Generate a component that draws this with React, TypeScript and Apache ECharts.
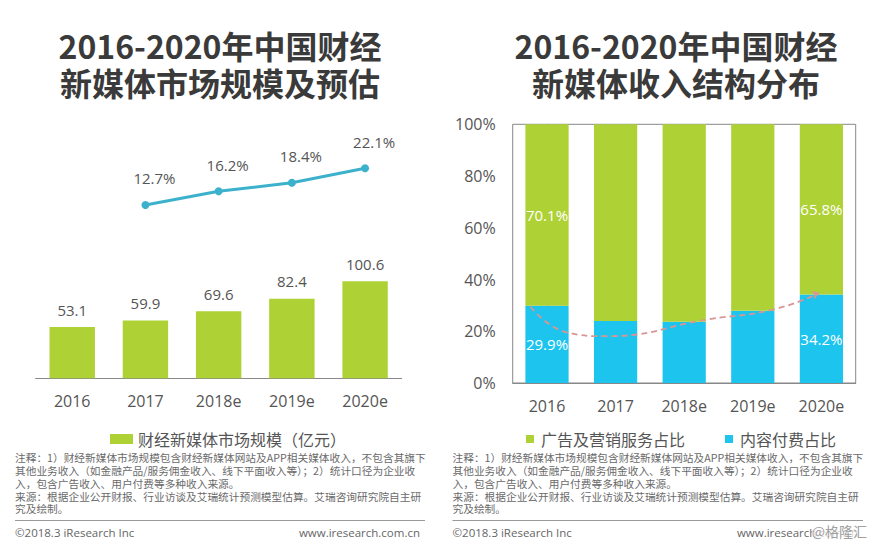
import React, { useEffect, useRef } from "react";
import * as echarts from "echarts";

const years = ["2016", "2017", "2018e", "2019e", "2020e"];
const marketSize = [53.1, 59.9, 69.6, 82.4, 100.6];
const growthRate: (number | null)[] = [null, 12.7, 16.2, 18.4, 22.1];
const adShare = [70.1, 76.0, 76.3, 72.1, 65.8];
const contentShare = [29.9, 24.0, 23.7, 27.9, 34.2];
const labeledIdx = [0, 4];
const trendCurve = [
  [-0.24, 29.5],
  [0.3, 19.5],
  [0.85, 18.1],
  [2.35, 24.6],
  [3.3, 28.4],
  [3.97, 34.8],
];
const yTicks = [0, 20, 40, 60, 80, 100];

const leftTitle = ["2016-2020年中国财经", "新媒体市场规模及预估"];
const rightTitle = ["2016-2020年中国财经", "新媒体收入结构分布"];
const notes = [
  "注释：1）财经新媒体市场规模包含财经新媒体网站及APP相关媒体收入，不包含其旗下",
  "其他业务收入（如金融产品/服务佣金收入、线下平面收入等）；2）统计口径为企业收",
  "入，包含广告收入、用户付费等多种收入来源。",
  "来源：根据企业公开财报、行业访谈及艾瑞统计预测模型估算。艾瑞咨询研究院自主研",
  "究及绘制。",
];
const footerLeft = "©2018.3 iResearch Inc";
const footerRight = "www.iresearch.com.cn";
const watermark = "@格隆汇";
const legendLeft = "财经新媒体市场规模（亿元）";
const legendAd = "广告及营销服务占比";
const legendContent = "内容付费占比";

const GREEN = "#aed136";
const BLUE = "#1dc4ee";
const LINE = "#3cb1cc";
const DASH = "#d99595";
const TXT = "#555";
const FONT = "'Open Sans', 'Noto Sans CJK SC', sans-serif";
const CJK = "'Noto Sans CJK SC', sans-serif";

function txt(x: number, y: number, text: string, o: any = {}) {
  const va = o.va ?? "middle";
  return {
    type: "text",
    x,
    y,
    z: o.z ?? 10,
    style: {
      text,
      fill: o.fill ?? "#666",
      fontSize: o.fontSize ?? 11,
      fontFamily: o.fontFamily ?? CJK,
      fontWeight: o.fontWeight ?? "normal",
      lineHeight: o.lineHeight,
      textAlign: o.align ?? "left",
      align: o.align ?? "left",
      textVerticalAlign: va,
      verticalAlign: va,
      backgroundColor: o.bg,
    },
  };
}

export default function App() {
  const ref = useRef<HTMLDivElement>(null);
  useEffect(() => {
    if (!ref.current) return;
    const chart = echarts.init(ref.current, undefined, { renderer: "svg" });
    const graphics: any[] = [];
    [
      [220, leftTitle],
      [676, rightTitle],
    ].forEach(([cx, lines]: any) => {
      graphics.push(
        txt(cx, 26.5, lines.join("\n"), {
          fontSize: 32,
          lineHeight: 37,
          fontWeight: "bold",
          fill: "#3a3a3a",
          align: "center",
          va: "top",
        })
      );
    });
    [
      [15, 425, 420],
      [452.5, 863, 858],
    ].forEach(([x0, x1, xr]) => {
      graphics.push(
        txt(x0, 451.6, notes.join("\n"), { fontSize: 10.7, lineHeight: 12.75, fill: "#6a6a6a", va: "top" })
      );
      graphics.push({
        type: "line",
        shape: { x1: x0, y1: 520.5, x2: x1, y2: 520.5 },
        style: { stroke: "#999", lineWidth: 1 },
      });
      graphics.push(txt(x0, 532, footerLeft, { fontSize: 11.5, fill: "#666", fontFamily: FONT }));
      graphics.push(txt(xr, 532, footerRight, { fontSize: 11.5, fill: "#666", fontFamily: FONT, align: "right" }));
    });
    graphics.push(
      txt(867, 531, watermark, { fontSize: 14, fill: "#a0a0a0", align: "right", bg: "rgba(255,255,255,0.75)", z: 20 })
    );

    const option: any = {
      animation: false,
      backgroundColor: "#fff",
      textStyle: { fontFamily: FONT },
      graphic: graphics,
      legend: [
        {
          left: 105,
          top: 426,
          data: [legendLeft],
          icon: "rect",
          itemWidth: 23,
          itemHeight: 10,
          itemGap: 5,
          selectedMode: false,
          textStyle: { fontSize: 16, color: TXT, fontFamily: CJK },
        },
        {
          left: 521,
          top: 426,
          data: [legendAd, legendContent],
          icon: "rect",
          itemWidth: 8,
          itemHeight: 8,
          itemGap: 40,
          selectedMode: false,
          textStyle: { fontSize: 16, color: TXT, fontFamily: CJK, padding: [0, 0, 0, 2] },
        },
      ],
      grid: [
        { left: 35.6, right: 471.3, top: 137.5, bottom: 289.5 },
        { left: 35.6, right: 471.3, top: 262.5, bottom: 165.7 },
        {
          left: 512.7,
          right: 17.3,
          top: 124.3,
          bottom: 161,
          show: true,
          borderColor: "#888",
          borderWidth: 1,
        },
      ],
      xAxis: [
        { type: "category", gridIndex: 0, data: years, show: false },
        {
          type: "category",
          gridIndex: 1,
          data: years,
          axisLine: { lineStyle: { color: "#888" } },
          axisTick: { show: false },
          axisLabel: { fontSize: 16, color: TXT, margin: 15 },
        },
        {
          type: "category",
          gridIndex: 2,
          data: years,
          axisLine: { lineStyle: { color: "#888" } },
          axisTick: { show: false },
          axisLabel: { fontSize: 16, color: TXT, margin: 15 },
        },
        { type: "value", gridIndex: 2, min: -0.5, max: 4.5, show: false },
      ],
      yAxis: [
        { type: "value", gridIndex: 0, min: 0, max: 30, show: false },
        { type: "value", gridIndex: 1, min: 0, max: 120, show: false },
        {
          type: "value",
          gridIndex: 2,
          min: yTicks[0],
          max: yTicks[yTicks.length - 1],
          interval: 20,
          axisLine: { show: true, lineStyle: { color: "#888" } },
          axisTick: { show: false },
          splitLine: { show: false },
          axisLabel: { fontSize: 16, color: TXT, margin: 17, formatter: "{value}%" },
        },
      ],
      series: [
        {
          name: "增长率",
          type: "line",
          xAxisIndex: 0,
          yAxisIndex: 0,
          data: growthRate,
          symbol: "circle",
          symbolSize: 8,
          lineStyle: { color: LINE, width: 3 },
          itemStyle: { color: LINE },
          label: {
            show: true,
            position: "top",
            distance: 15,
            offset: [9, 0],
            fontSize: 15,
            color: TXT,
            formatter: (p: any) => p.value + "%",
          },
        },
        {
          name: legendLeft,
          type: "bar",
          xAxisIndex: 1,
          yAxisIndex: 1,
          data: marketSize,
          barWidth: "62%",
          itemStyle: { color: GREEN },
          label: { show: true, position: "top", distance: 10, fontSize: 15, color: TXT },
        },
        {
          name: legendContent,
          type: "bar",
          stack: "share",
          xAxisIndex: 2,
          yAxisIndex: 2,
          barWidth: "63%",
          itemStyle: { color: BLUE },
          data: contentShare.map((v, i) => ({
            value: v,
            label: { show: labeledIdx.includes(i) },
          })),
          label: {
            position: "inside",
            fontSize: 15,
            color: "#fff",
            formatter: (p: any) => p.value + "%",
          },
        },
        {
          name: legendAd,
          type: "bar",
          stack: "share",
          xAxisIndex: 2,
          yAxisIndex: 2,
          barWidth: "63%",
          itemStyle: { color: GREEN },
          data: adShare.map((v, i) => ({
            value: v,
            label: { show: labeledIdx.includes(i) },
          })),
          label: {
            position: "inside",
            fontSize: 15,
            color: "#fff",
            formatter: (p: any) => p.value + "%",
          },
        },
        {
          name: "趋势",
          type: "line",
          xAxisIndex: 3,
          yAxisIndex: 2,
          smooth: 0.5,
          symbol: "none",
          z: 5,
          lineStyle: { color: DASH, width: 1.8, type: [6, 4] },
          itemStyle: { color: DASH },
          data: trendCurve.map((p, i) =>
            i === trendCurve.length - 1
              ? { value: p, symbol: "arrow", symbolSize: [7, 7], symbolRotate: -72 }
              : { value: p }
          ),
        },
      ],
    };
    chart.setOption(option);
    return () => chart.dispose();
  }, []);
  return (
    <div
      ref={ref}
      style={{ position: "absolute", left: 0, top: 0, width: 873, height: 544, background: "#fff" }}
    />
  );
}
